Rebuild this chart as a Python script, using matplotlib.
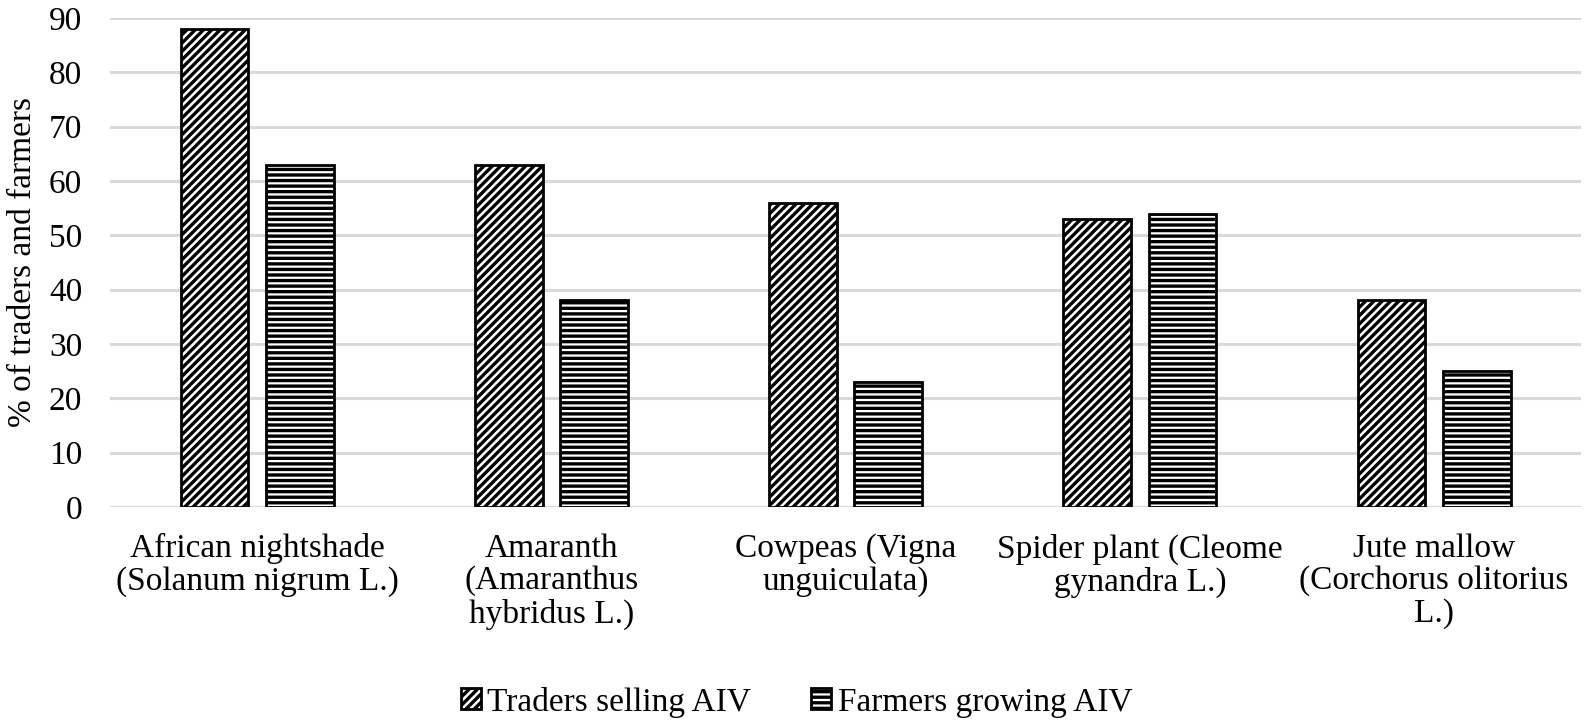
import numpy as np
import matplotlib.pyplot as plt

plt.rcParams['font.family'] = ['Liberation Serif', 'DejaVu Serif']
plt.rcParams['hatch.linewidth'] = 2.4

categories = ["African nightshade\n(Solanum nigrum L.)",
              "Amaranth\n(Amaranthus\nhybridus L.)",
              "Cowpeas (Vigna\nunguiculata)",
              "Spider plant (Cleome\ngynandra L.)",
              "Jute mallow\n(Corchorus olitorius\nL.)"]
traders = [88, 63, 56, 53, 38]
farmers = [63, 38, 23, 54, 25]
series_names = ["Traders selling AIV", "Farmers growing AIV"]

fig = plt.figure(figsize=(15.94, 7.2), dpi=100)
ax = fig.add_axes([0.069, 0.296, 0.923, 0.679])

x = np.arange(len(categories))
w = 0.23
off = 0.145
ax.bar(x - off, traders, w, color="white", edgecolor="black", linewidth=2,
       hatch="////", label=series_names[0], zorder=3)
ax.bar(x + off, farmers, w, color="white", edgecolor="black", linewidth=2,
       hatch="---", label=series_names[1], zorder=3)

ax.set_xlim(-0.5, len(categories) - 0.5)
ax.set_ylim(0, 90)
ax.set_yticks(np.arange(0, 91, 10))
ax.yaxis.grid(True, color="#d9d9d9", linewidth=2.2, zorder=0)
ax.set_axisbelow(True)
for s in ax.spines.values():
    s.set_visible(False)
ax.tick_params(axis="both", length=0, labelsize=24)
ax.tick_params(axis="y", pad=20)
ax.tick_params(axis="x", pad=19)
ax.set_xticks(x)
ax.set_xticklabels(categories, fontsize=24, linespacing=1.08)
ax.set_ylabel("% of traders and farmers", fontsize=24, labelpad=8)

ax.legend(loc="center", bbox_to_anchor=(0.4997, 0.025), bbox_transform=fig.transFigure,
          ncol=2, frameon=False, fontsize=24, handlelength=0.6, handleheight=0.6,
          handletextpad=0.2, columnspacing=1.8)

fig.savefig("out.png", dpi=100)
